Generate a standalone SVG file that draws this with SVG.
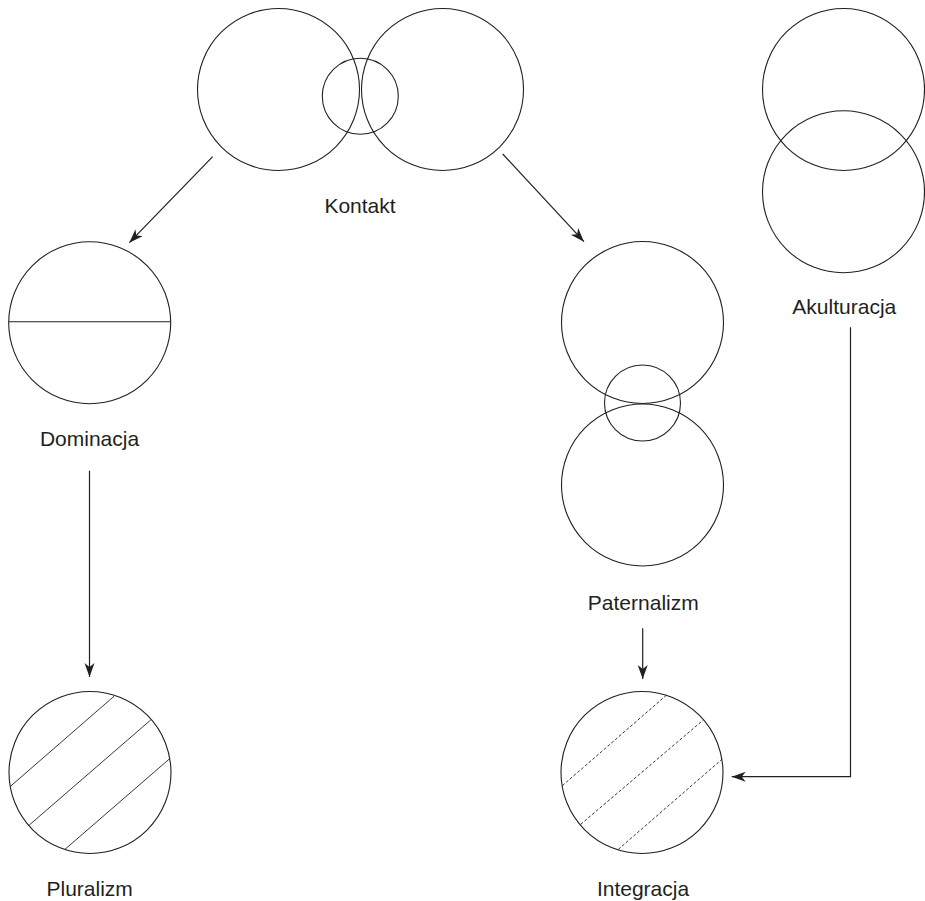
<svg xmlns="http://www.w3.org/2000/svg" width="925" height="901" viewBox="0 0 925 901">
<defs>
<style>
.c{fill:none;stroke:#231f20;stroke-width:1.1}
.h{fill:none;stroke:#231f20;stroke-width:0.9}
.d{fill:none;stroke:#231f20;stroke-width:0.9;stroke-dasharray:3 2}
.a{fill:none;stroke:#231f20;stroke-width:1.2;marker-end:url(#arr)}
text{font-family:"Liberation Sans",Arial,sans-serif;font-size:21px;fill:#231f20;text-anchor:middle}
</style>
<marker id="arr" markerUnits="userSpaceOnUse" markerWidth="15" markerHeight="11" refX="14" refY="5" orient="auto">
<path d="M0,0 L14,5 L0,10 L4,5 z" fill="#231f20"/>
</marker>
</defs>
<rect width="925" height="901" fill="#ffffff"/>
<g id="kontakt">
<circle class="c" cx="278.5" cy="89.5" r="81"/>
<circle class="c" cx="442.5" cy="89.5" r="81"/>
<circle class="c" cx="360.3" cy="96.3" r="38"/>
<text x="360" y="212.5">Kontakt</text>
</g>
<g id="dominacja">
<circle class="c" cx="89.7" cy="322.8" r="81"/>
<line class="c" x1="8.7" y1="321.7" x2="170.7" y2="321.7"/>
<text x="89.5" y="446">Dominacja</text>
</g>
<g id="pluralizm">
<circle class="c" cx="90" cy="772.5" r="81"/>
<line class="h" x1="10" y1="786.7" x2="114.3" y2="696"/>
<line class="h" x1="29.3" y1="825" x2="150.7" y2="720"/>
<line class="h" x1="65" y1="849.3" x2="169.3" y2="759"/>
<text x="89.7" y="895.5">Pluralizm</text>
</g>
<g id="paternalizm">
<circle class="c" cx="642.5" cy="322.5" r="81"/>
<circle class="c" cx="642.5" cy="403" r="38"/>
<circle class="c" cx="642.5" cy="485" r="81"/>
<text x="643.3" y="610">Paternalizm</text>
</g>
<g id="integracja">
<circle class="c" cx="642" cy="772.5" r="81"/>
<line class="d" x1="562.3" y1="785.7" x2="666.7" y2="695"/>
<line class="d" x1="580.7" y1="824.3" x2="703.3" y2="720"/>
<line class="d" x1="618.3" y1="849.3" x2="722.3" y2="759"/>
<text x="643" y="895.5">Integracja</text>
</g>
<g id="akulturacja">
<circle class="c" cx="843.5" cy="89.5" r="81"/>
<circle class="c" cx="843.5" cy="191.8" r="81"/>
<text x="844.3" y="314">Akulturacja</text>
</g>
<g id="connectors">
<line class="a" x1="212.7" y1="156.7" x2="129.3" y2="242.7"/>
<line class="a" x1="502.7" y1="154" x2="584" y2="241.7"/>
<line class="a" x1="89.5" y1="470.7" x2="89.5" y2="677"/>
<line class="a" x1="642.7" y1="628.3" x2="642.7" y2="679"/>
<polyline class="a" points="850.5,327.3 850.5,776.7 731.7,776.7"/>
</g>
</svg>
